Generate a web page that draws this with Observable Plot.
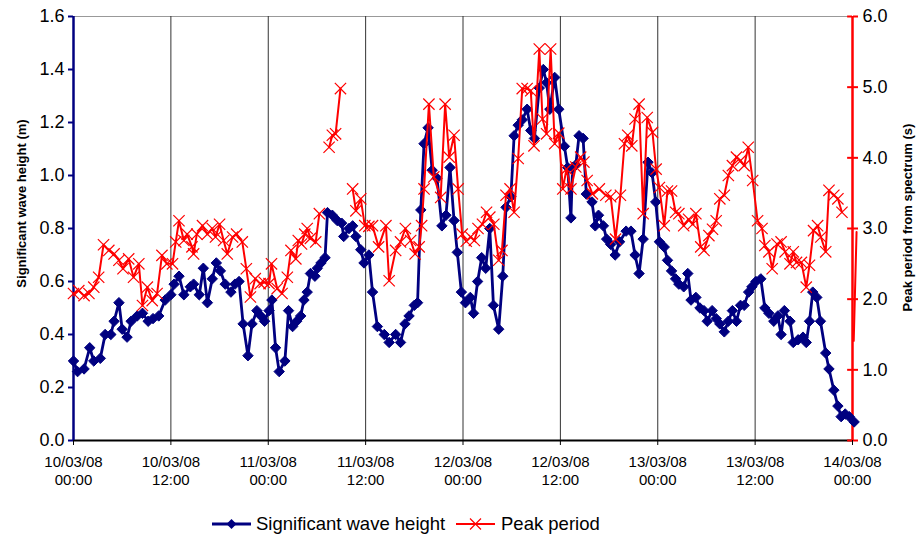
<!DOCTYPE html>
<html>
<head>
<meta charset="utf-8">
<script src="https://cdn.jsdelivr.net/npm/d3@7"></script>
<script src="https://cdn.jsdelivr.net/npm/@observablehq/plot@0.6"></script>
<style>
  html, body { margin: 0; padding: 0; background: #fff; }
  body { font-family: "Liberation Sans", Arial, sans-serif; }
  #wrap { position: relative; width: 921px; height: 539px; overflow: hidden; }
  #chart { position: absolute; left: 0; top: 0; }
  #legend { position: absolute; left: 0; top: 0; width: 921px; height: 539px; pointer-events: none; font-size: 18.5px; color: #000; }
  #legend .sw { position: absolute; top: 517px; }
  #legend .lab { position: absolute; top: 513px; white-space: nowrap; line-height: 22px; }
</style>
</head>
<body>
<div id="wrap">
  <div id="chart"></div>
  <div id="legend"></div>
</div>
<script>
// ---- Data (hours since 10/03/08 00:00) ----
const hsHours = [0.0,0.5,1.3,2.0,2.5,3.3,3.9,4.6,5.0,5.6,6.0,6.6,7.1,7.85,8.5,9.2,9.8,10.5,11.3,12.0,12.4,13.0,13.6,14.4,14.8,15.5,16.0,16.5,17.1,17.6,18.1,18.7,19.4,19.9,20.4,20.9,21.5,22.0,22.6,23.1,23.55,24.1,24.45,24.9,25.35,26.05,26.5,27.0,27.5,28.0,28.4,28.8,29.2,29.75,30.05,30.5,31.0,31.3,31.9,32.5,33.05,33.3,33.95,34.4,34.8,35.4,35.8,36.4,36.85,37.45,38.3,38.9,39.7,40.3,40.85,41.35,42.0,42.4,42.8,43.2,43.7,44.2,44.8,45.4,45.9,46.4,46.9,47.3,47.8,48.3,48.9,49.3,49.8,50.3,50.8,51.3,51.75,52.4,52.9,53.3,53.9,54.3,54.8,55.3,55.9,56.35,56.8,57.4,57.9,58.3,58.7,59.3,59.8,60.5,60.9,61.3,61.5,61.9,62.3,62.8,63.2,63.9,64.3,64.7,65.3,65.7,66.2,66.75,67.3,68.1,68.7,69.2,69.7,70.2,70.8,71.3,71.75,72.2,72.8,73.2,73.7,74.2,74.6,75.2,75.7,76.1,76.7,77.2,77.7,78.1,78.7,79.2,79.65,80.2,80.7,81.2,81.7,82.2,82.65,83.2,83.6,84.1,84.7,85.2,85.7,86.3,86.8,87.2,87.6,88.3,88.7,89.3,89.9,90.3,90.7,91.1,91.6,92.05,92.7,93.1,93.7,94.2,94.6,95.1,95.6,96.2];
const hsValues = [0.30,0.26,0.27,0.35,0.30,0.31,0.40,0.40,0.45,0.52,0.42,0.39,0.45,0.47,0.48,0.45,0.46,0.47,0.53,0.55,0.59,0.62,0.55,0.58,0.59,0.55,0.65,0.52,0.61,0.67,0.64,0.59,0.56,0.59,0.60,0.44,0.32,0.44,0.49,0.47,0.45,0.49,0.53,0.35,0.26,0.30,0.49,0.43,0.45,0.47,0.53,0.56,0.63,0.62,0.65,0.67,0.69,0.86,0.85,0.83,0.82,0.77,0.80,0.81,0.77,0.72,0.67,0.70,0.56,0.43,0.40,0.37,0.40,0.37,0.44,0.47,0.51,0.52,0.87,1.12,1.18,1.02,0.99,0.81,0.85,1.03,0.83,0.71,0.56,0.52,0.54,0.48,0.60,0.69,0.65,0.80,0.51,0.42,0.62,0.88,0.92,1.15,1.19,1.21,1.25,1.17,1.14,1.33,1.40,1.35,1.25,1.37,1.25,1.11,1.03,0.84,1.03,1.04,1.15,1.14,0.93,0.90,0.81,0.85,0.81,0.76,0.74,0.70,0.75,0.79,0.79,0.70,0.63,0.76,1.05,1.01,0.90,0.75,0.73,0.68,0.64,0.61,0.59,0.58,0.63,0.53,0.54,0.50,0.49,0.45,0.49,0.46,0.44,0.41,0.45,0.49,0.45,0.51,0.51,0.56,0.58,0.60,0.61,0.50,0.48,0.45,0.47,0.40,0.49,0.45,0.37,0.38,0.39,0.37,0.45,0.56,0.54,0.45,0.33,0.27,0.19,0.13,0.09,0.10,0.09,0.07];

const tpHours = [0.0,0.65,1.3,1.9,2.5,3.1,3.7,4.35,5.0,5.6,6.1,6.8,7.4,8.05,8.5,9.1,9.7,10.3,10.9,11.5,12.2,12.6,13.0,13.6,14.0,14.6,14.8,15.2,15.9,16.5,17.1,17.5,18.0,18.5,18.95,19.6,20.1,20.8,21.3,21.8,22.4,23.0,23.5,24.1,24.4,25.1,25.7,26.35,26.8,27.4,27.7,28.1,28.5,28.8,29.2,29.85,30.3,30.9,31.5,31.9,32.3,32.9,33.6,34.4,34.8,35.4,35.9,36.4,36.85,37.6,38.5,38.9,39.7,40.3,40.9,41.55,42.1,42.6,42.9,43.2,43.8,44.4,45.25,45.8,46.3,46.9,47.4,47.9,48.4,48.95,49.4,49.85,50.4,50.9,51.3,51.8,52.4,52.8,53.3,53.8,54.3,54.8,55.3,55.9,56.35,56.75,57.4,57.8,58.3,58.8,59.3,59.8,60.3,60.75,61.3,61.9,62.5,62.9,63.3,63.95,64.8,65.6,66.2,66.8,67.4,67.9,68.3,68.8,69.2,69.7,70.2,70.7,71.35,71.8,72.2,72.8,73.2,73.7,74.2,74.6,75.2,75.8,76.3,76.7,77.3,77.7,78.3,78.75,79.2,79.65,80.2,80.7,81.2,81.7,82.2,82.65,83.15,83.7,84.3,84.85,85.2,85.7,86.1,86.7,87.2,87.7,88.3,88.7,89.1,89.7,90.3,90.7,91.2,91.7,92.1,92.7,93.1,93.7,94.2,94.7];
const tpValues = [2.08,2.12,2.05,2.08,2.17,2.31,2.77,2.69,2.64,2.55,2.43,2.57,2.31,2.50,1.91,2.17,1.98,2.08,2.62,2.50,2.50,2.81,3.11,2.83,2.92,2.74,2.64,2.92,3.04,2.92,3.00,2.88,3.06,2.83,2.64,2.88,2.92,2.81,2.43,2.03,2.29,2.22,2.24,2.22,2.50,2.15,2.08,2.31,2.69,2.57,2.83,2.78,2.92,3.00,2.86,2.81,3.21,null,4.15,4.32,4.34,4.98,null,3.56,3.25,3.42,3.04,3.03,3.04,2.74,3.04,2.26,2.69,2.81,3.00,2.83,2.64,2.74,3.04,3.56,4.76,3.73,3.44,4.76,4.01,4.32,3.56,2.92,2.82,2.88,2.83,3.00,3.06,3.23,3.16,3.06,2.55,2.69,3.47,3.56,3.23,3.99,4.98,4.98,4.95,4.17,5.54,4.55,4.34,5.54,4.20,4.35,3.56,3.84,3.56,3.87,4.01,3.94,3.68,3.49,3.56,3.47,3.45,2.85,3.47,4.20,4.32,4.17,4.55,4.76,3.21,4.57,4.36,3.84,3.58,3.04,3.53,3.53,3.23,3.21,3.04,3.13,3.06,3.21,2.74,2.69,2.90,2.99,3.11,3.42,3.47,3.75,3.89,4.01,3.96,3.89,4.15,3.68,3.11,3.00,2.76,2.67,2.43,2.78,2.81,2.67,2.50,2.67,2.52,2.52,2.17,2.48,2.97,3.04,2.88,2.67,3.54,3.47,3.42,3.23];
// trailing segment drawn without markers
const tpTailHours = [96.5, 96.15];
const tpTailValues = [2.95, 1.41];

const xTicks = [0, 12, 24, 36, 48, 60, 72, 84, 96];
const xTickLabels = ["10/03/08\n00:00","10/03/08\n12:00","11/03/08\n00:00","11/03/08\n12:00","12/03/08\n00:00","12/03/08\n12:00","13/03/08\n00:00","13/03/08\n12:00","14/03/08\n00:00"];
const leftTicks = [0, 0.2, 0.4, 0.6, 0.8, 1.0, 1.2, 1.4, 1.6];
const rightTicks = [0, 1, 2, 3, 4, 5, 6];
const leftMax = 1.6, rightMax = 6;
const seriesNames = ["Significant wave height", "Peak period"];
const leftTitle = "Significant wave height (m)";
const rightTitle = "Peak period from spectrum (s)";

// ---- Build tables ----
const k = leftMax / rightMax; // map right axis onto left scale
const hs = hsHours.map((h, i) => ({h, v: hsValues[i]}));
const tp = tpHours.map((h, i) => ({h, v: tpValues[i] == null ? NaN : tpValues[i] * k}));
const tpTail = tpTailHours.map((h, i) => ({h, v: tpTailValues[i] * k}));

const NAVY = "#000080", RED = "#ff0000";
const FONT = "'Liberation Sans', Arial, sans-serif";

const chart = Plot.plot({
  width: 921,
  height: 505,
  marginLeft: 73,
  marginRight: 69,
  marginTop: 16,
  marginBottom: 65,
  x: {domain: [0, 96]},
  y: {domain: [0, leftMax]},
  style: {fontFamily: FONT, background: "#fff", color: "#000", overflow: "visible"},
  marks: [
    // plot area top border & vertical gridlines
    Plot.ruleY([leftMax], {stroke: "#999", strokeWidth: 1}),
    Plot.ruleX(xTicks.slice(1, -1), {stroke: "#333", strokeWidth: 1}),
    // x axis
    Plot.axisX({ticks: xTicks, tickFormat: d => xTickLabels[xTicks.indexOf(d)], tickSize: 5, tickPadding: 9, fontSize: 15, lineHeight: 1.2, label: null}),
    Plot.ruleY([0], {stroke: "#000", strokeWidth: 2}),
    // left axis
    Plot.axisY({anchor: "left", ticks: leftTicks, tickFormat: d => d.toFixed(1), tickSize: 5, tickPadding: 4, stroke: NAVY, strokeWidth: 2, fontSize: 18, label: null}),
    Plot.ruleX([0], {stroke: NAVY, strokeWidth: 2.5}),
    // right axis
    Plot.axisY({anchor: "right", ticks: rightTicks.map(v => v * k), tickFormat: d => (d / k).toFixed(1), tickSize: 5, tickPadding: 5, stroke: RED, strokeWidth: 2, fontSize: 18, label: null}),
    Plot.ruleY(rightTicks.map(v => v * k), {x1: 95.4, x2: 96, stroke: RED, strokeWidth: 2}),
    Plot.ruleX([96], {stroke: RED, strokeWidth: 2.5}),
    // significant wave height series
    Plot.line(hs, {x: "h", y: "v", stroke: NAVY, strokeWidth: 2.8}),
    Plot.dot(hs, {x: "h", y: "v", symbol: "diamond2", r: 4.7, fill: NAVY, stroke: NAVY, strokeWidth: 1}),
    // peak period series
    Plot.line(tp, {x: "h", y: "v", stroke: RED, strokeWidth: 2}),
    Plot.dot(tp, {x: "h", y: "v", symbol: "times", r: 5.2, stroke: RED, strokeWidth: 1.2}),
    Plot.line(tpTail, {x: "h", y: "v", stroke: RED, strokeWidth: 2}),
    // axis titles
    Plot.text([leftTitle], {frameAnchor: "left", text: d => d, rotate: -90, textAnchor: "middle", dx: -52, dy: -25, fontSize: 13, fontWeight: "bold", fill: "#000"}),
    Plot.text([rightTitle], {frameAnchor: "right", text: d => d, rotate: -90, textAnchor: "middle", dx: 55, dy: -11, fontSize: 13, fontWeight: "bold", fill: "#000"})
  ]
});
document.getElementById("chart").appendChild(chart);

// ---- Legend ----
const legend = document.getElementById("legend");
const legendPos = [{sw: 212, lab: 256}, {sw: 456, lab: 501}];
function swatch(kind) {
  const ns = "http://www.w3.org/2000/svg";
  const s = document.createElementNS(ns, "svg");
  s.setAttribute("width", 39); s.setAttribute("height", 14);
  const color = kind === 0 ? NAVY : RED;
  const l = document.createElementNS(ns, "line");
  l.setAttribute("x1", 0); l.setAttribute("x2", 39); l.setAttribute("y1", 7); l.setAttribute("y2", 7);
  l.setAttribute("stroke", color); l.setAttribute("stroke-width", kind === 0 ? 2.8 : 2);
  s.appendChild(l);
  const p = document.createElementNS(ns, "path");
  if (kind === 0) {
    p.setAttribute("d", "M19.5,2L24.5,7L19.5,12L14.5,7Z");
    p.setAttribute("fill", color);
  } else {
    p.setAttribute("d", "M14,1.5L25,12.5M25,1.5L14,12.5");
    p.setAttribute("stroke", color); p.setAttribute("stroke-width", 1.2);
  }
  s.appendChild(p);
  return s;
}
seriesNames.forEach((name, i) => {
  const sw = swatch(i);
  sw.setAttribute("class", "sw");
  sw.style.left = legendPos[i].sw + "px";
  legend.appendChild(sw);
  const t = document.createElement("span");
  t.className = "lab";
  t.style.left = legendPos[i].lab + "px";
  t.textContent = name;
  legend.appendChild(t);
});
</script>
</body>
</html>
